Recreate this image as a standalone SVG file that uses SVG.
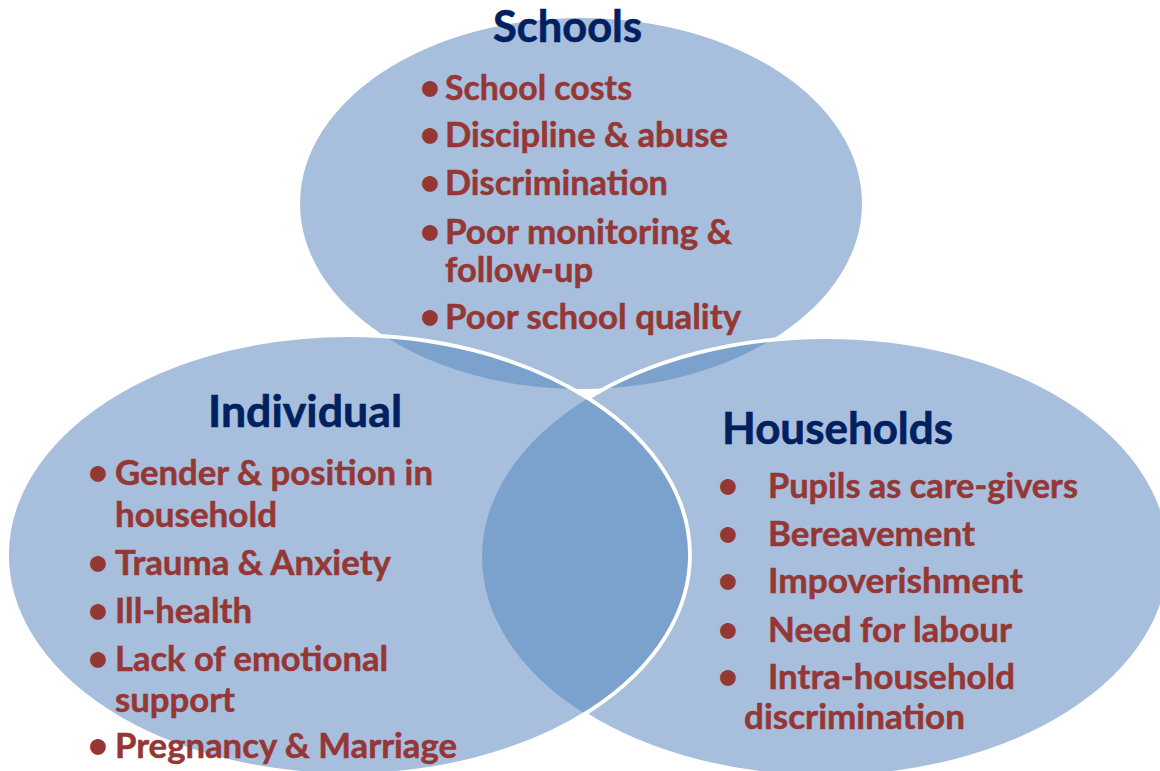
<svg xmlns="http://www.w3.org/2000/svg" width="1160" height="771" viewBox="0 0 1160 771">
  <style>
    .fill { fill: #A7BFDD; stroke: none; }
    .lens { fill: #7BA1CD; stroke: none; }
    .edge { fill: none; stroke: #FFFFFF; stroke-width: 3.8; }
    .title { font-family: Lato, "Liberation Sans", sans-serif; font-weight: bold; font-size: 43px; fill: #002060; stroke: #002060; stroke-width: 0.6; }
    .item { font-family: Lato, "Liberation Sans", sans-serif; font-weight: bold; font-size: 34px; fill: #953735; stroke: #953735; stroke-width: 0.5; }
    .bullet { font-family: Lato, "Liberation Sans", sans-serif; font-weight: bold; font-size: 36px; fill: #953735; text-anchor: middle; }
  </style>
  <defs>
    <clipPath id="clipLeft">
      <ellipse cx="348.5" cy="555" rx="341.5" ry="220"/>
    </clipPath>
    <clipPath id="clipRight">
      <ellipse cx="826" cy="557" rx="344" ry="220"/>
    </clipPath>
    <clipPath id="clipOutsideLeft">
      <path clip-rule="evenodd" d="M -10 -10 H 1200 V 800 H -10 Z M 7 555 A 341.5 220 0 1 0 690 555 A 341.5 220 0 1 0 7 555 Z"/>
    </clipPath>
  </defs>

  <g id="venn-shapes">
    <ellipse class="fill" cx="581" cy="203.5" rx="281" ry="185.5"/>
    <ellipse class="fill" cx="348.5" cy="555" rx="341.5" ry="220"/>
    <ellipse class="fill" cx="826" cy="557" rx="344" ry="220"/>
    <ellipse class="lens" cx="581" cy="203.5" rx="281" ry="185.5" clip-path="url(#clipLeft)"/>
    <ellipse class="lens" cx="581" cy="203.5" rx="281" ry="185.5" clip-path="url(#clipRight)"/>
    <ellipse class="lens" cx="348.5" cy="555" rx="341.5" ry="220" clip-path="url(#clipRight)"/>
  </g>

  <g id="connectors">
    <ellipse class="edge" cx="826" cy="557" rx="344" ry="220" clip-path="url(#clipOutsideLeft)"/>
    <ellipse class="edge" cx="348.5" cy="555" rx="341.5" ry="220"/>
  </g>

  <g id="node-schools">
    <text class="title" x="493" y="42" textLength="149" lengthAdjust="spacingAndGlyphs">Schools</text>
    <text class="bullet" x="430" y="100">•</text>
    <text class="item" x="445" y="100" textLength="187" lengthAdjust="spacingAndGlyphs">School costs</text>
    <text class="bullet" x="430" y="147">•</text>
    <text class="item" x="445" y="147" textLength="283" lengthAdjust="spacingAndGlyphs">Discipline &amp; abuse</text>
    <text class="bullet" x="430" y="195">•</text>
    <text class="item" x="445" y="195" textLength="223" lengthAdjust="spacingAndGlyphs">Discrimination</text>
    <text class="bullet" x="430" y="244">•</text>
    <text class="item" x="445" y="244" textLength="287" lengthAdjust="spacingAndGlyphs">Poor monitoring &amp;</text>
    <text class="item" x="445" y="282" textLength="148" lengthAdjust="spacingAndGlyphs">follow-up</text>
    <text class="bullet" x="430" y="329">•</text>
    <text class="item" x="445" y="329" textLength="296" lengthAdjust="spacingAndGlyphs">Poor school quality</text>
  </g>

  <g id="node-individual">
    <text class="title" x="208" y="427" textLength="194" lengthAdjust="spacingAndGlyphs">Individual</text>
    <text class="bullet" x="98" y="485">•</text>
    <text class="item" x="115" y="485" textLength="318" lengthAdjust="spacingAndGlyphs">Gender &amp; position in</text>
    <text class="item" x="115" y="527" textLength="162" lengthAdjust="spacingAndGlyphs">household</text>
    <text class="bullet" x="98" y="575">•</text>
    <text class="item" x="115" y="575" textLength="276" lengthAdjust="spacingAndGlyphs">Trauma &amp; Anxiety</text>
    <text class="bullet" x="98" y="623">•</text>
    <text class="item" x="115" y="623" textLength="137" lengthAdjust="spacingAndGlyphs">Ill-health</text>
    <text class="bullet" x="98" y="671">•</text>
    <text class="item" x="115" y="671" textLength="273" lengthAdjust="spacingAndGlyphs">Lack of emotional</text>
    <text class="item" x="115" y="712" textLength="120" lengthAdjust="spacingAndGlyphs">support</text>
    <text class="bullet" x="98" y="758">•</text>
    <text class="item" x="115" y="758" textLength="342" lengthAdjust="spacingAndGlyphs">Pregnancy &amp; Marriage</text>
  </g>

  <g id="node-households">
    <text class="title" x="722" y="444" textLength="231" lengthAdjust="spacingAndGlyphs">Households</text>
    <text class="bullet" x="728" y="498">•</text>
    <text class="item" x="768" y="498" textLength="310" lengthAdjust="spacingAndGlyphs">Pupils as care-givers</text>
    <text class="bullet" x="728" y="546">•</text>
    <text class="item" x="768" y="546" textLength="207" lengthAdjust="spacingAndGlyphs">Bereavement</text>
    <text class="bullet" x="728" y="593">•</text>
    <text class="item" x="768" y="593" textLength="255" lengthAdjust="spacingAndGlyphs">Impoverishment</text>
    <text class="bullet" x="728" y="642">•</text>
    <text class="item" x="768" y="642" textLength="244" lengthAdjust="spacingAndGlyphs">Need for labour</text>
    <text class="bullet" x="728" y="689">•</text>
    <text class="item" x="768" y="689" textLength="247" lengthAdjust="spacingAndGlyphs">Intra-household</text>
    <text class="item" x="744" y="729" textLength="221" lengthAdjust="spacingAndGlyphs">discrimination</text>
  </g>
</svg>
